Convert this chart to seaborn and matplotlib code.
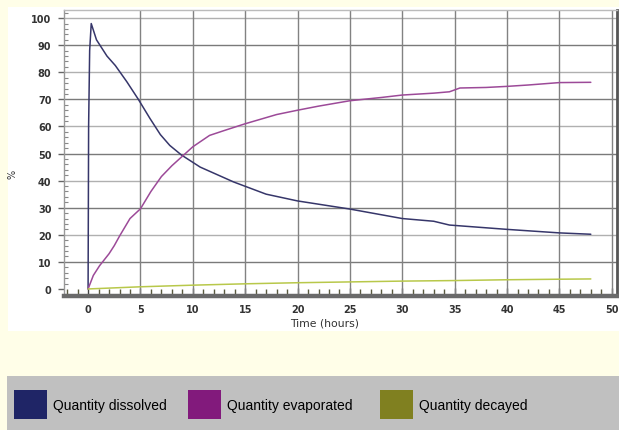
import matplotlib
matplotlib.use("Agg")
import matplotlib.pyplot as plt
from matplotlib.patches import Rectangle
from matplotlib.ticker import MultipleLocator
import seaborn as sns
import pandas as pd

# Time series (hours, % of released quantity)
t_dissolved = [0, 0.05, 0.15, 0.3, 0.8, 1.8, 2.6, 3.7, 4.8, 5.9, 6.9, 7.8, 8.9,
               10.7, 13.9, 17, 20, 25, 30, 33, 34.5, 40, 45, 48]
dissolved = [0, 60, 88, 98, 92, 86, 82.5, 76.5, 70, 63, 57, 53, 49.5,
             45, 39.5, 35, 32.5, 29.5, 26, 25, 23.6, 22, 20.7, 20.2]

t_evaporated = [0, 0.5, 1.1, 2, 2.5, 3, 4, 5, 6, 7, 8, 9, 10, 11.6, 13, 15, 18,
                20, 22, 25, 28, 30, 33, 34.5, 35.5, 38, 40, 42, 45, 48]
evaporated = [0, 5, 8.6, 13, 16, 19.5, 26, 29.6, 36, 41.5, 45.5, 49, 52.5, 56.7,
              58.5, 61, 64.4, 66, 67.5, 69.5, 70.7, 71.6, 72.3, 72.8, 74.2, 74.4,
              74.8, 75.3, 76.2, 76.3]

t_decayed = [0, 5, 10, 15, 20, 25, 30, 35, 40, 45, 48]
decayed = [0, 0.8, 1.4, 1.9, 2.3, 2.6, 2.9, 3.1, 3.4, 3.6, 3.7]

series_names = ["Quantity dissolved", "Quantity evaporated", "Quantity decayed"]
line_colors = ["#36366a", "#9c4a98", "#b8c84a"]
legend_colors = ["#1f2566", "#821a7c", "#808020"]
x_ticks = [0, 5, 10, 15, 20, 25, 30, 35, 40, 45, 50]
y_ticks = [0, 10, 20, 30, 40, 50, 60, 70, 80, 90, 100]

frames = []
for name, tt, vv in zip(series_names, [t_dissolved, t_evaporated, t_decayed],
                        [dissolved, evaporated, decayed]):
    frames.append(pd.DataFrame({"time": tt, "value": vv, "series": name}))
df = pd.concat(frames, ignore_index=True)

sns.set_theme(style="white")
plt.rcParams["font.family"] = ["DejaVu Sans"]

W, H = 619, 431
fig = plt.figure(figsize=(W / 100, H / 100), dpi=100)
fig.patch.set_facecolor("#fffee8")

# white panel behind the chart
fig.patches.append(Rectangle((8 / W, 1 - 332 / H), 1 - 8 / W, (332 - 8) / H,
                             transform=fig.transFigure, facecolor="white",
                             edgecolor="none", zorder=-5))
# grey legend strip
fig.patches.append(Rectangle((7 / W, 0), 1 - 7 / W, 1 - 377 / H,
                             transform=fig.transFigure, facecolor="#c0c0c0",
                             edgecolor="none", zorder=-5))

ax = fig.add_axes([64 / W, 1 - 297 / H, (617 - 64) / W, (297 - 11) / H])
ax.set_zorder(2)
ax.set_facecolor("white")

# grid
for y in y_ticks[1:]:
    ax.axhline(y, color="#7a7a7a" if (y // 10) % 2 else "#b0b0b0", lw=1.0, zorder=1)
for x in x_ticks[1:]:
    ax.axvline(x, color="#828282", lw=1.0, zorder=1)

sns.lineplot(data=df, x="time", y="value", hue="series", palette=line_colors,
             hue_order=series_names, linewidth=1.1, legend=False, ax=ax,
             estimator=None, sort=False, zorder=3)

ax.set_xlim(-2.3, 50.5)
ax.set_ylim(-2.6, 103)
ax.set_xticks(x_ticks)
ax.set_yticks(y_ticks)
ax.xaxis.set_minor_locator(MultipleLocator(1))
ax.yaxis.set_minor_locator(MultipleLocator(2))
ax.tick_params(axis="x", which="major", direction="in", length=6, width=1,
               color="#444444", labelsize=7, pad=6, labelcolor="#333333")
ax.tick_params(axis="x", which="minor", direction="in", length=5, width=1,
               color="#5a5a40")
ax.tick_params(axis="y", which="major", direction="out", length=4, width=1,
               color="#666666", labelsize=7, pad=5, labelcolor="#333333")
ax.tick_params(axis="y", which="minor", direction="in", length=3, width=0.8,
               color="#888888")
ax.xaxis.set_ticks_position("bottom")
ax.yaxis.set_ticks_position("left")
for lbl in ax.get_xticklabels() + ax.get_yticklabels():
    lbl.set_fontweight("bold")

for side, spine in ax.spines.items():
    spine.set_visible(True)
ax.spines["bottom"].set_color("#6a6a6a")
ax.spines["bottom"].set_linewidth(3.2)
ax.spines["left"].set_color("#999999")
ax.spines["left"].set_linewidth(1.0)
ax.spines["top"].set_color("#bbbbbb")
ax.spines["top"].set_linewidth(1.0)
ax.spines["right"].set_color("#555555")
ax.spines["right"].set_linewidth(2.0)

ax.set_xlabel("")
ax.set_ylabel("")
fig.text(325 / W, 1 - 324 / H, "Time (hours)", fontsize=7.8, color="#333333",
         ha="center", va="center")
fig.text(13 / W, 1 - 174 / H, "%", fontsize=7, color="#333333",
         ha="center", va="center", rotation=90)

# legend strip entries
sq_left = [14, 188, 380]
txt_left = [53, 227, 419]
for name, col, sx, tx in zip(series_names, legend_colors, sq_left, txt_left):
    fig.patches.append(Rectangle((sx / W, 1 - 420 / H), 33 / W, 29 / H,
                                 transform=fig.transFigure, facecolor=col,
                                 edgecolor="none", zorder=3))
    fig.text(tx / W, 1 - 406 / H, name, fontsize=10, color="black",
             family=["Liberation Sans", "DejaVu Sans"], va="center", ha="left")

fig.savefig("out.png", dpi=100, facecolor=fig.get_facecolor())
